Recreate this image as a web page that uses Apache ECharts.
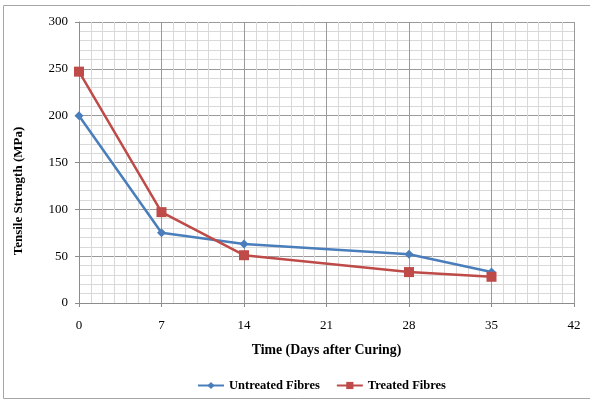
<!DOCTYPE html>
<html><head><meta charset="utf-8">
<script src="https://cdn.jsdelivr.net/npm/echarts@6/dist/echarts.min.js"></script>
<style>html,body{margin:0;padding:0;background:#fff}#c{width:590px;height:402px}</style>
</head><body><div id="c"></div>
<script>
const days = [0, 7, 14, 28, 35];
const untreated = [200, 75, 63, 52, 33];
const treated = [247, 97, 51, 33, 28];
const seriesNames = ['Untreated Fibres', 'Treated Fibres'];
const xTitle = 'Time (Days after Curing)';
const yTitle = 'Tensile Strength (MPa)';

const font = '"Liberation Serif", "DejaVu Serif", serif';
const chart = echarts.init(document.getElementById('c'), null, {renderer: 'canvas'});
const pair = (xs, ys) => xs.map((x, i) => [x, ys[i]]);
chart.setOption({
  animation: false,
  backgroundColor: '#fff',
  graphic: [
    {type: 'rect', shape: {x: 3.5, y: 5.5, width: 590, height: 393}, style: {fill: 'none', stroke: '#a6a6a6', lineWidth: 1}, silent: true},
    {type: 'text', x: 19, y: 191, rotation: Math.PI / 2, silent: true,
     style: {text: yTitle, fontFamily: font, fontWeight: 'bold', fontSize: 13, fill: '#000', align: 'center', verticalAlign: 'middle'}}
  ],
  grid: {left: 79, right: 16, top: 22, bottom: 99, containLabel: false},
  legend: {
    bottom: 5, left: 192, itemGap: 16, itemWidth: 26, itemHeight: 9,
    textStyle: {fontFamily: font, fontWeight: 'bold', fontSize: 12.5, color: '#000'},
    data: seriesNames
  },
  xAxis: {
    type: 'value', min: 0, max: 42, interval: 7,
    name: xTitle, nameLocation: 'middle', nameGap: 40,
    nameTextStyle: {fontFamily: font, fontWeight: 'bold', fontSize: 13.8, color: '#000'},
    axisLine: {show: true, lineStyle: {color: '#8c8c8c'}},
    axisTick: {show: true, length: 4, lineStyle: {color: '#8c8c8c'}},
    minorTick: {show: false, splitNumber: 7},
    axisLabel: {fontFamily: font, fontSize: 13, color: '#000', margin: 16},
    splitLine: {show: true, lineStyle: {color: '#9a9a9a', width: 1}},
    minorSplitLine: {show: true, lineStyle: {color: '#d9d9d9', width: 1}}
  },
  yAxis: {
    type: 'value', min: 0, max: 300, interval: 50,
    axisLine: {show: true, lineStyle: {color: '#8c8c8c'}},
    axisTick: {show: true, length: 4, lineStyle: {color: '#8c8c8c'}},
    minorTick: {show: false, splitNumber: 5},
    axisLabel: {fontFamily: font, fontSize: 13, color: '#000', margin: 11},
    splitLine: {show: true, lineStyle: {color: '#9a9a9a', width: 1}},
    minorSplitLine: {show: true, lineStyle: {color: '#d9d9d9', width: 1}}
  },
  series: [
    {name: seriesNames[0], type: 'line', data: pair(days, untreated), symbol: 'diamond', symbolSize: 9,
     lineStyle: {color: '#4a7ebb', width: 2.5}, itemStyle: {color: '#4a7ebb'}},
    {name: seriesNames[1], type: 'line', data: pair(days, treated), symbol: 'rect', symbolSize: 10,
     lineStyle: {color: '#be4b48', width: 2.5}, itemStyle: {color: '#be4b48'}}
  ]
});
</script></body></html>
